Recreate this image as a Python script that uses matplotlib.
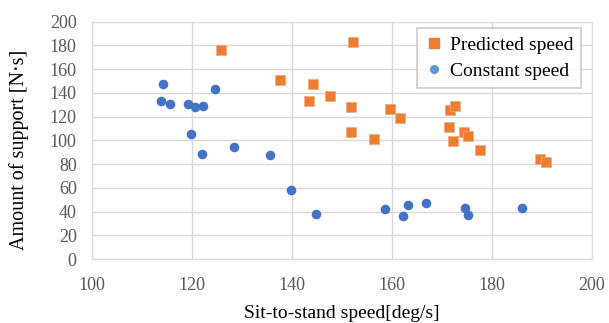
import matplotlib.pyplot as plt
from matplotlib.lines import Line2D

# Predicted speed (orange squares)
pred_x = [125.9, 137.6, 144.3, 143.4, 147.6, 152.2, 151.9, 151.9, 156.4, 159.6,
          161.6, 171.6, 172.7, 171.4, 172.2, 174.4, 175.3, 177.6, 189.7, 190.9]
pred_y = [175.8, 151.1, 147.7, 133.4, 137.6, 183.1, 127.8, 107.2, 101.1, 126.1,
          118.8, 125.5, 128.9, 111.0, 99.7, 107.0, 103.9, 91.6, 84.2, 81.5]

# Constant speed (blue circles)
const_x = [114.2, 113.9, 115.6, 119.2, 120.7, 122.3, 124.7, 119.9, 122.1, 128.4,
           135.7, 139.8, 144.8, 158.6, 162.2, 163.2, 166.8, 174.7, 175.2, 186.0]
const_y = [147.2, 133.4, 130.3, 130.3, 128.3, 129.2, 143.0, 105.6, 88.5, 94.1,
           87.4, 58.4, 37.9, 41.9, 36.2, 45.8, 46.9, 42.7, 36.8, 43.0]

plt.rcParams['font.family'] = ['Liberation Serif', 'DejaVu Serif']

fig = plt.figure(figsize=(6.09, 3.23), dpi=100)
ax = fig.add_axes([0.151, 0.198, 0.821, 0.735])

ax.scatter(pred_x, pred_y, marker='s', s=58, color='#ED7D31', edgecolors='#F4A977',
           linewidths=0.5, zorder=3)
ax.scatter(const_x, const_y, marker='o', s=48, color='#4472C4', linewidths=0, zorder=3)

ax.set_xlim(100, 200)
ax.set_ylim(0, 200)
ax.set_xticks(range(100, 201, 20))
ax.set_yticks(range(0, 201, 20))
ax.grid(True, color='#D9D9D9', linewidth=1)
ax.set_axisbelow(True)
for s in ax.spines.values():
    s.set_color('#D9D9D9')
ax.tick_params(length=0, labelsize=13, colors='#595959')
ax.tick_params(axis='x', pad=13)
ax.tick_params(axis='y', pad=11)

ax.set_xlabel('Sit-to-stand speed[deg/s]', fontsize=14, labelpad=8)
ax.set_ylabel('Amount of support [N·s]', fontsize=14.5)
ax.yaxis.set_label_coords(-0.126, 0.46)

handles = [
    Line2D([], [], linestyle='none', marker='s', markersize=7.2, color='#ED7D31'),
    Line2D([], [], linestyle='none', marker='o', markersize=5.5, color='#5B9BD5'),
]
leg = ax.legend(handles, ['Predicted speed', 'Constant speed'], loc='upper right',
                bbox_to_anchor=(0.978, 0.972), borderaxespad=0, fontsize=14,
                frameon=True, fancybox=False, edgecolor='#BFBFBF', handletextpad=0.3,
                borderpad=0.4, labelspacing=0.45, handlelength=1.0)
leg.get_frame().set_linewidth(1.2)

fig.savefig('out.png', dpi=100)
